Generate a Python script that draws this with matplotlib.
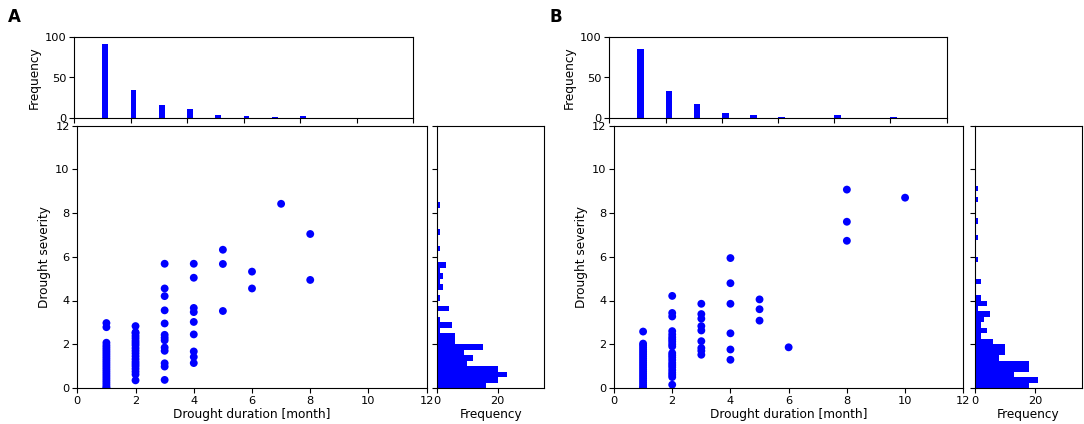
import numpy as np
import matplotlib
matplotlib.use("Agg")
import matplotlib.pyplot as plt

# ---------------- data ----------------
durations = [1, 2, 3, 4, 5, 6, 7, 8, 9, 10]
# Top histogram counts (drought duration)
freq_dur_A = [92, 34, 16, 11, 3, 2, 1, 2, 0, 0]
freq_dur_B = [86, 33, 17, 6, 3, 1, 0, 3, 0, 1]

# Right histogram counts, severity bins of 0.25 starting at 0
sev_bin_width = 0.25
freq_sev_A = [16, 20, 23, 20, 10, 12, 9, 15, 6, 6, 1, 5, 1, 0, 4, 0, 1, 0, 2, 1,
              2, 1, 3, 0, 0, 1, 0, 0, 1, 0, 0, 0, 0, 1]
freq_sev_B = [18, 21, 13, 18, 18, 8, 10, 10, 6, 2, 4, 2, 3, 5, 1, 4, 2, 0, 0, 2,
              0, 0, 0, 1, 0, 0, 0, 1, 0, 0, 1, 0, 0, 0, 1, 0, 1]

# Scatter points (duration, severity)
dur_A = ([1] * 24 + [2] * 20 + [3] * 13 + [4] * 9 + [5] * 3 + [6] * 2 + [7] + [8] * 2)
sev_A = ([0.0, 0.05, 0.15, 0.25, 0.35, 0.45, 0.55, 0.65, 0.75, 0.85, 0.95, 1.05,
          1.15, 1.25, 1.35, 1.45, 1.55, 1.65, 1.75, 1.85, 1.95, 2.07, 2.78, 2.97] +
         [0.35, 0.62, 0.75, 0.88, 1.0, 1.1, 1.2, 1.32, 1.45, 1.58, 1.7, 1.82, 1.95,
          2.05, 2.15, 2.27, 2.38, 2.5, 2.55, 2.83] +
         [5.68, 4.55, 4.2, 3.55, 2.95, 2.43, 2.3, 2.18, 1.85, 1.7, 1.13, 0.98, 0.37] +
         [5.68, 5.04, 3.66, 3.47, 3.02, 2.45, 1.67, 1.42, 1.14] +
         [6.32, 5.67, 3.52] +
         [5.32, 4.55] +
         [8.42] +
         [7.04, 4.94])

dur_B = ([1] * 23 + [2] * 22 + [3] * 9 + [4] * 6 + [5] * 3 + [6] + [8] * 3 + [10])
sev_B = ([0.0, 0.05, 0.15, 0.25, 0.35, 0.45, 0.55, 0.65, 0.75, 0.85, 0.95, 1.05,
          1.15, 1.25, 1.35, 1.45, 1.55, 1.65, 1.75, 1.85, 1.95, 2.03, 2.58] +
         [0.15, 0.5, 0.6, 0.7, 0.82, 0.95, 1.05, 1.15, 1.28, 1.4, 1.5, 1.6, 1.9,
          2.0, 2.12, 2.22, 2.32, 2.45, 2.6, 3.27, 3.43, 4.21] +
         [3.85, 3.38, 3.17, 2.83, 2.63, 2.14, 1.83, 1.7, 1.52] +
         [5.94, 4.79, 3.85, 2.5, 1.76, 1.29] +
         [4.05, 3.6, 3.08] +
         [1.86] +
         [9.07, 7.6, 6.73] +
         [8.7])

panels = [
    ("A", dur_A, sev_A, freq_dur_A, freq_sev_A, 0.21),
    ("B", dur_B, sev_B, freq_dur_B, freq_sev_B, 0.24),
]

# ---------------- layout (pixels) ----------------
W, H = 1084, 424
BLUE = "#0000ff"
TICK_FS = 8.2
LABEL_FS = 8.7

plt.rcParams["font.family"] = ["DejaVu Sans"]
fig = plt.figure(figsize=(W / 100, H / 100), dpi=100)


def px_axes(x0, y0, x1, y1):
    return fig.add_axes([x0 / W, 1 - y1 / H, (x1 - x0) / W, (y1 - y0) / H])


boxes = {
    "A": dict(top=(74, 37.3, 413, 117.7), main=(77.3, 125.5, 426.7, 388),
              right=(437.3, 125.5, 544.3, 388), letter=(14, 17)),
    "B": dict(top=(609.3, 37.3, 946.7, 117.7), main=(614, 125.5, 963.3, 388),
              right=(975, 125.5, 1082, 388), letter=(556, 17)),
}

for name, dur, sev, fdur, fsev, bw in panels:
    b = boxes[name]
    ax_top = px_axes(*b["top"])
    ax_main = px_axes(*b["main"])
    ax_right = px_axes(*b["right"])

    # top histogram
    ax_top.bar(durations, fdur, width=bw, align="edge", color=BLUE)
    ax_top.set_xlim(0, 12)
    ax_top.set_ylim(0, 100)
    ax_top.set_xticks(np.arange(0, 13, 2))
    ax_top.set_xticklabels([])
    ax_top.set_yticks([0, 50, 100])
    ax_top.set_ylabel("Frequency", fontsize=LABEL_FS, labelpad=3)
    ax_top.tick_params(labelsize=TICK_FS, pad=2)

    # scatter
    ax_main.scatter(dur, sev, s=32, color=BLUE, edgecolors="none")
    ax_main.set_xlim(0, 12)
    ax_main.set_ylim(0, 12)
    ax_main.set_xticks(np.arange(0, 13, 2))
    ax_main.set_yticks(np.arange(0, 13, 2))
    ax_main.set_xlabel("Drought duration [month]", fontsize=LABEL_FS, labelpad=2)
    ax_main.set_ylabel("Drought severity", fontsize=LABEL_FS, labelpad=3)
    ax_main.tick_params(labelsize=TICK_FS, pad=2)

    # right histogram
    edges = np.arange(len(fsev)) * sev_bin_width
    ax_right.barh(edges, fsev, height=sev_bin_width, align="edge", color=BLUE)
    ax_right.set_ylim(0, 12)
    ax_right.set_xlim(0, 35.5)
    ax_right.set_yticks(np.arange(0, 13, 2))
    ax_right.set_yticklabels([])
    ax_right.set_xticks([0, 20])
    ax_right.set_xlabel("Frequency", fontsize=LABEL_FS, labelpad=2)
    ax_right.tick_params(labelsize=TICK_FS, pad=2)

    lx, ly = b["letter"]
    fig.text(lx / W, 1 - ly / H, name, fontsize=12, fontweight="bold",
             ha="center", va="center")

fig.savefig("out.png", dpi=100)
